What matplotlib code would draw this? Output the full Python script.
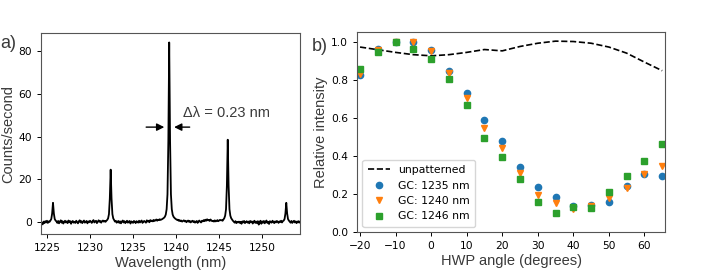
import numpy as np
import matplotlib.pyplot as plt

# --- panel a: spectrum (counts/second), 0.1 nm steps starting at 1224.3 nm
wl_start = 1224.3
wl_step = 0.1
counts = [
    -0.8, -0.3, -1.1, 0.2, -0.5, 0.4, -0.2, 0.6, -0.4, 0.3,
    0.1, 0.7, 1.4, 4.0, 9.0, 4.0, 1.4, 0.7, 0.3, -0.4,
    0.5, -0.6, 0.2, 0.8, -0.3, 0.4, -0.7, 0.1, 0.6, -0.2,
    0.3, -0.5, 0.7, -0.1, 0.4, -0.8, 0.2, 0.5, -0.3, 0.1,
    -0.4, 0.6, 0.0, -0.6, 0.3, 0.8, -0.2, 0.4, -0.5, 0.2,
    0.7, -0.3, 0.1, 0.5, -0.6, 0.3, -0.1, 0.6, 0.2, -0.4,
    0.4, 0.9, -0.2, 0.3, 0.6, -0.5, 0.2, 0.8, 0.1, 0.5,
    -0.3, 0.4, 0.7, 0.2, 0.5, 0.1, 0.6, 1.0, 1.7, 3.7,
    11.0, 24.5, 11.0, 3.7, 1.7, 0.9, 0.2, 0.6, -0.3, 0.2,
    0.5, -0.4, 0.3, -0.6, 0.2, 0.7, -0.2, 0.4, -0.5, 0.1,
    0.6, -0.3, 0.2, 0.5, -0.7, 0.3, 0.0, -0.4, 0.5, 0.2,
    -0.5, 0.4, 0.1, -0.3, 0.6, -0.2, 0.3, 0.7, -0.4, 0.2,
    0.5, 0.1, -0.3, 0.8, 0.2, 0.6, -0.1, 0.9, 0.4, 0.7,
    0.3, 1.0, 0.5, 0.8, 1.2, 0.6, 1.1, 0.9, 1.3, 1.0,
    1.2, 1.4, 1.7, 2.0, 2.5, 3.5, 6.0, 13.0, 38.0, 84.0,
    38.0, 13.0, 6.0, 3.5, 2.5, 2.0, 1.6, 1.3, 1.0, 1.1,
    0.6, 0.9, 0.4, 0.7, 0.2, 0.5, 0.8, 0.3, 0.6, -0.1,
    0.4, 0.7, 0.1, 0.5, -0.2, 0.3, 0.6, 0.0, 0.4, -0.3,
    0.2, 0.5, -0.4, 0.3, 0.7, 0.1, -0.2, 0.6, 0.3, 0.9,
    0.4, 1.1, 0.6, 1.3, 0.8, 1.0, 0.5, 1.2, 0.7, 0.4,
    0.6, 0.2, 0.8, 0.3, 0.5, 0.9, 0.4, 0.7, 1.0, 0.8,
    0.9, 0.6, 1.2, 1.8, 3.0, 6.0, 17.0, 38.5, 17.0, 6.0,
    3.0, 1.8, 1.2, 0.6, 0.2, -0.3, 0.4, -0.5, 0.1, -0.2,
    0.2, -0.4, 0.1, -0.8, 0.3, -0.2, 0.5, -0.5, 0.0, 0.4,
    -0.3, 0.2, -0.6, 0.5, -0.1, 0.3, -0.7, 0.1, 0.6, -0.4,
    0.2, -0.5, 0.4, -1.2, 0.0, 0.6, -0.8, 0.3, -0.3, 0.5,
    -0.6, 0.2, 0.7, -0.4, 0.1, -0.9, 0.4, 0.0, -0.3, 0.6,
    0.1, -0.5, 0.3, -0.2, 0.5, 0.2, -0.4, 0.3, 0.0, 0.6,
    -0.2, 0.4, 0.7, 1.4, 4.0, 9.0, 4.0, 1.4, 0.7, 0.2,
    -0.3, 0.5, -0.4, 0.2, 0.6, -0.2, 0.3, -0.5, 0.1, 0.4,
    -0.3, 0.2,
]
wavelength = wl_start + wl_step * np.arange(len(counts))

# --- panel b: relative intensity vs HWP angle
angle = [-20, -15, -10, -5, 0, 5, 10, 15, 20, 25, 30, 35, 40, 45, 50, 55, 60, 65]
unpatterned = [0.971, 0.957, 0.943, 0.931, 0.925, 0.931, 0.943, 0.958, 0.951,
               0.974, 0.991, 1.002, 1.0, 0.991, 0.971, 0.939, 0.892, 0.847]
gc_1235 = [0.824, 0.962, 0.997, 1.0, 0.957, 0.847, 0.729, 0.586, 0.480,
           0.344, 0.235, 0.186, 0.136, 0.143, 0.160, 0.243, 0.306, 0.294]
gc_1240 = [0.830, 0.957, 1.0, 0.998, 0.948, 0.835, 0.706, 0.546, 0.442,
           0.313, 0.195, 0.153, 0.122, 0.139, 0.181, 0.230, 0.304, 0.348]
gc_1246 = [0.856, 0.943, 1.0, 0.962, 0.906, 0.803, 0.668, 0.494, 0.397,
           0.277, 0.160, 0.103, 0.132, 0.127, 0.209, 0.296, 0.376, 0.461]

label_font = dict(family=['Liberation Sans', 'DejaVu Sans'], size=10.5, color='#3a3a3a')

fig = plt.figure(figsize=(7.06, 2.71), dpi=100)
ax1 = fig.add_axes([0.058, 0.1365, 0.367, 0.7415])
ax2 = fig.add_axes([0.5057, 0.143, 0.4363, 0.739])

ax1.plot(wavelength, counts, color='black', lw=1.3)
ax1.set_xlim(1224.3, 1254.4)
ax1.set_ylim(-5.6, 88.4)
ax1.set_xticks([1225, 1230, 1235, 1240, 1245, 1250])
ax1.set_yticks([0, 20, 40, 60, 80])
ax1.set_xlabel('Wavelength (nm)', fontdict=label_font, labelpad=2)
ax1.set_ylabel('Counts/second', fontdict=label_font, labelpad=2)
ax1.annotate('', xy=(1238.95, 44.4), xytext=(1236.2, 44.4),
             arrowprops=dict(arrowstyle='-|>', color='black', lw=1.0, mutation_scale=11))
ax1.annotate('', xy=(1239.45, 44.4), xytext=(1241.9, 44.4),
             arrowprops=dict(arrowstyle='-|>', color='black', lw=1.0, mutation_scale=11))
ax1.text(1240.8, 47.5, 'Δλ = 0.23 nm', fontdict=label_font, va='bottom', ha='left')

ax2.plot(angle, unpatterned, '--', color='black', lw=1.2, label='unpatterned')
ax2.plot(angle, gc_1235, 'o', color='#1f77b4', ms=4.5, label='GC: 1235 nm')
ax2.plot(angle, gc_1240, 'v', color='#ff7f0e', ms=4.5, label='GC: 1240 nm')
ax2.plot(angle, gc_1246, 's', color='#2ca02c', ms=4.3, label='GC: 1246 nm')
ax2.set_xlim(-20.85, 65.8)
ax2.set_ylim(0, 1.05)
ax2.set_xticks([-20, -10, 0, 10, 20, 30, 40, 50, 60])
ax2.set_yticks([0.0, 0.2, 0.4, 0.6, 0.8, 1.0])
ax2.set_xlabel('HWP angle (degrees)', fontdict=label_font, labelpad=2)
ax2.set_ylabel('Relative intensity', fontdict=label_font, labelpad=2)
ax2.legend(loc='lower left', fontsize=7.8, borderpad=0.5, handlelength=2.0)

for ax in (ax1, ax2):
    ax.tick_params(labelsize=7.7, length=3, width=0.7)
    for s in ax.spines.values():
        s.set_color('#555555')

fig.text(0.0, 0.838, 'a)', fontdict=dict(label_font, size=13), va='center', ha='left')
fig.text(0.442, 0.83, 'b)', fontdict=dict(label_font, size=13), va='center', ha='left')

fig.savefig('out.png', dpi=100)
